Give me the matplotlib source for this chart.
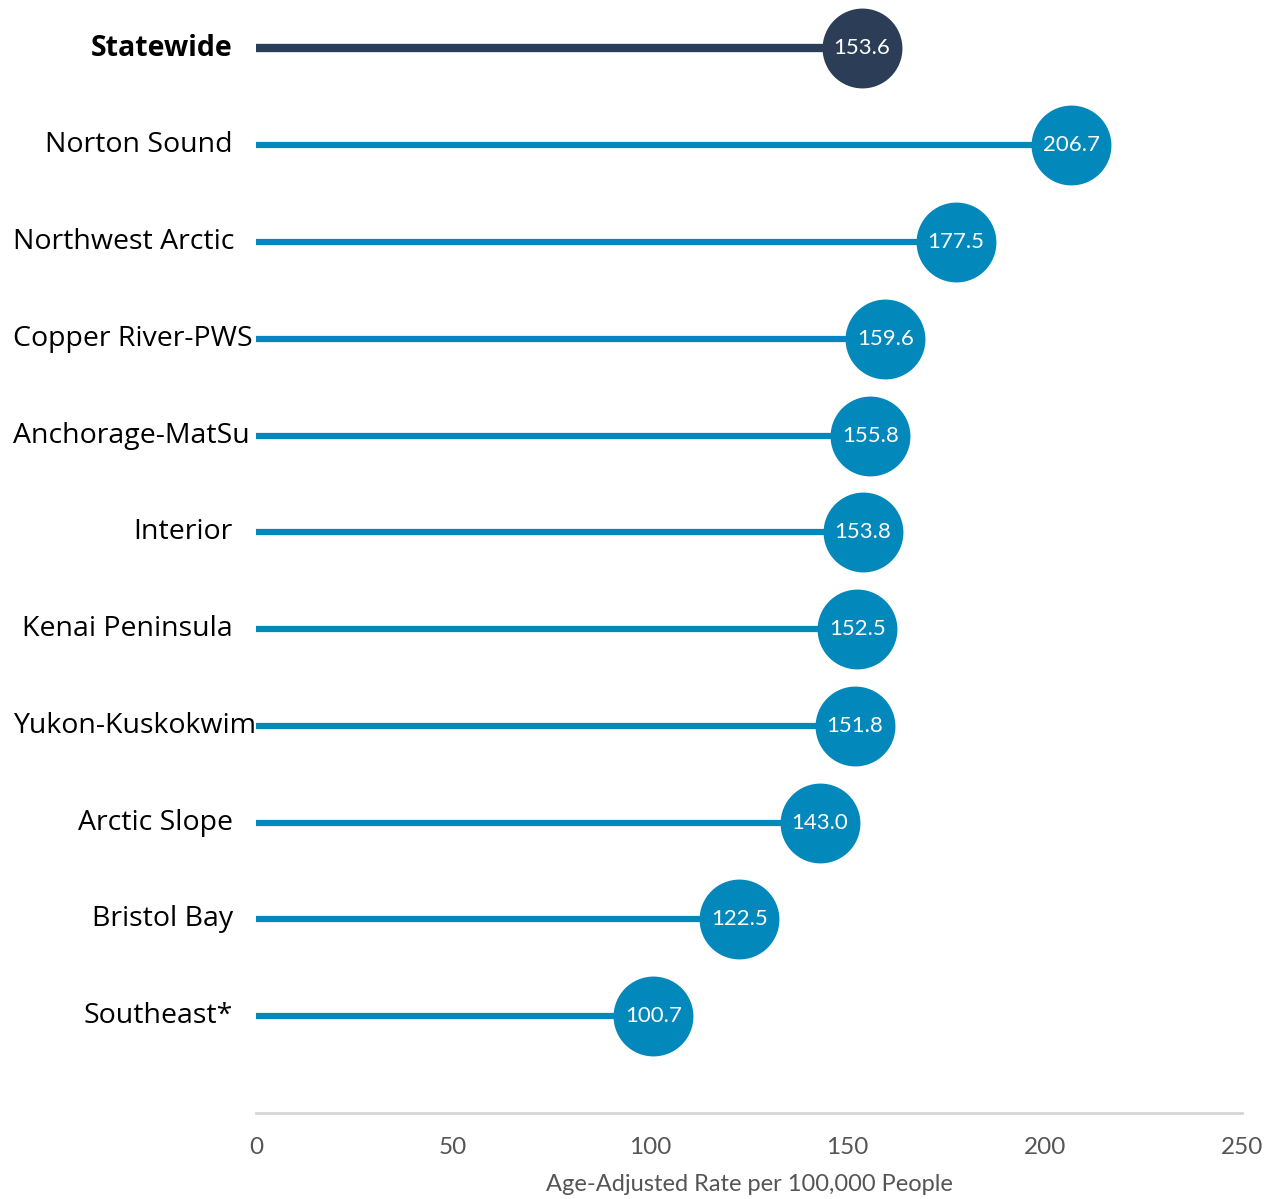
import matplotlib
matplotlib.use("Agg")
from matplotlib import pyplot as plt

regions = ["Statewide", "Norton Sound", "Northwest Arctic", "Copper River-PWS",
           "Anchorage-MatSu", "Interior", "Kenai Peninsula", "Yukon-Kuskokwim",
           "Arctic Slope", "Bristol Bay", "Southeast*"]
rates = [153.6, 206.7, 177.5, 159.6, 155.8, 153.8, 152.5, 151.8, 143.0, 122.5, 100.7]
xticks = [0, 50, 100, 150, 200, 250]

blue = "#0288BB"
navy = "#2C3E57"

fig = plt.figure(figsize=(12.66, 11.99), dpi=100)
ax = fig.add_axes([256 / 1266, 1 - 1113 / 1199, 986 / 1266, 1113 / 1199])
ax.set_xlim(0, 250)
ax.set_ylim(-1, len(regions) - 0.5)

n = len(regions)
for i, (name, val) in enumerate(zip(regions, rates)):
    y = n - 1 - i
    col = navy if name == "Statewide" else blue
    lw = 6 if name == "Statewide" else 4.5
    ax.plot([0, val], [y, y], color=col, lw=lw, solid_capstyle="butt", zorder=2)
    ax.plot(val, y, "o", color=col, markersize=57.5, markeredgewidth=0, zorder=3)
    ax.text(val, y, f"{val:.1f}", color="white", fontsize=16, family="Lato",
            ha="center", va="center", zorder=4)

# category labels, right aligned, but never past the left edge of the figure
fig.canvas.draw()
r = fig.canvas.get_renderer()
for i, name in enumerate(regions):
    y = n - 1 - i
    t = ax.text(0, y, name, fontsize=20.5, family="Open Sans",
                fontweight="bold" if name == "Statewide" else "normal",
                color="black", ha="right", va="center")
    w = t.get_window_extent(r).width
    right_px = max(233, 13 + w)
    ypx = ax.transData.transform((0, y))[1]
    t.set_x(ax.transData.inverted().transform((right_px, ypx))[0])

ax.set_xticks(xticks)
ax.set_xticklabels([str(v) for v in xticks], fontsize=17.5, color="#555555",
                   family="Lato")
ax.tick_params(axis="x", length=0, pad=17)
ax.set_yticks([])
for s in ["top", "right", "left"]:
    ax.spines[s].set_visible(False)
ax.spines["bottom"].set_color("#d6d6d6")
ax.spines["bottom"].set_linewidth(2)
ax.set_xlabel("Age-Adjusted Rate per 100,000 People", fontsize=17,
              color="#555555", family="Lato", labelpad=12)

fig.savefig("out.png", dpi=100)
